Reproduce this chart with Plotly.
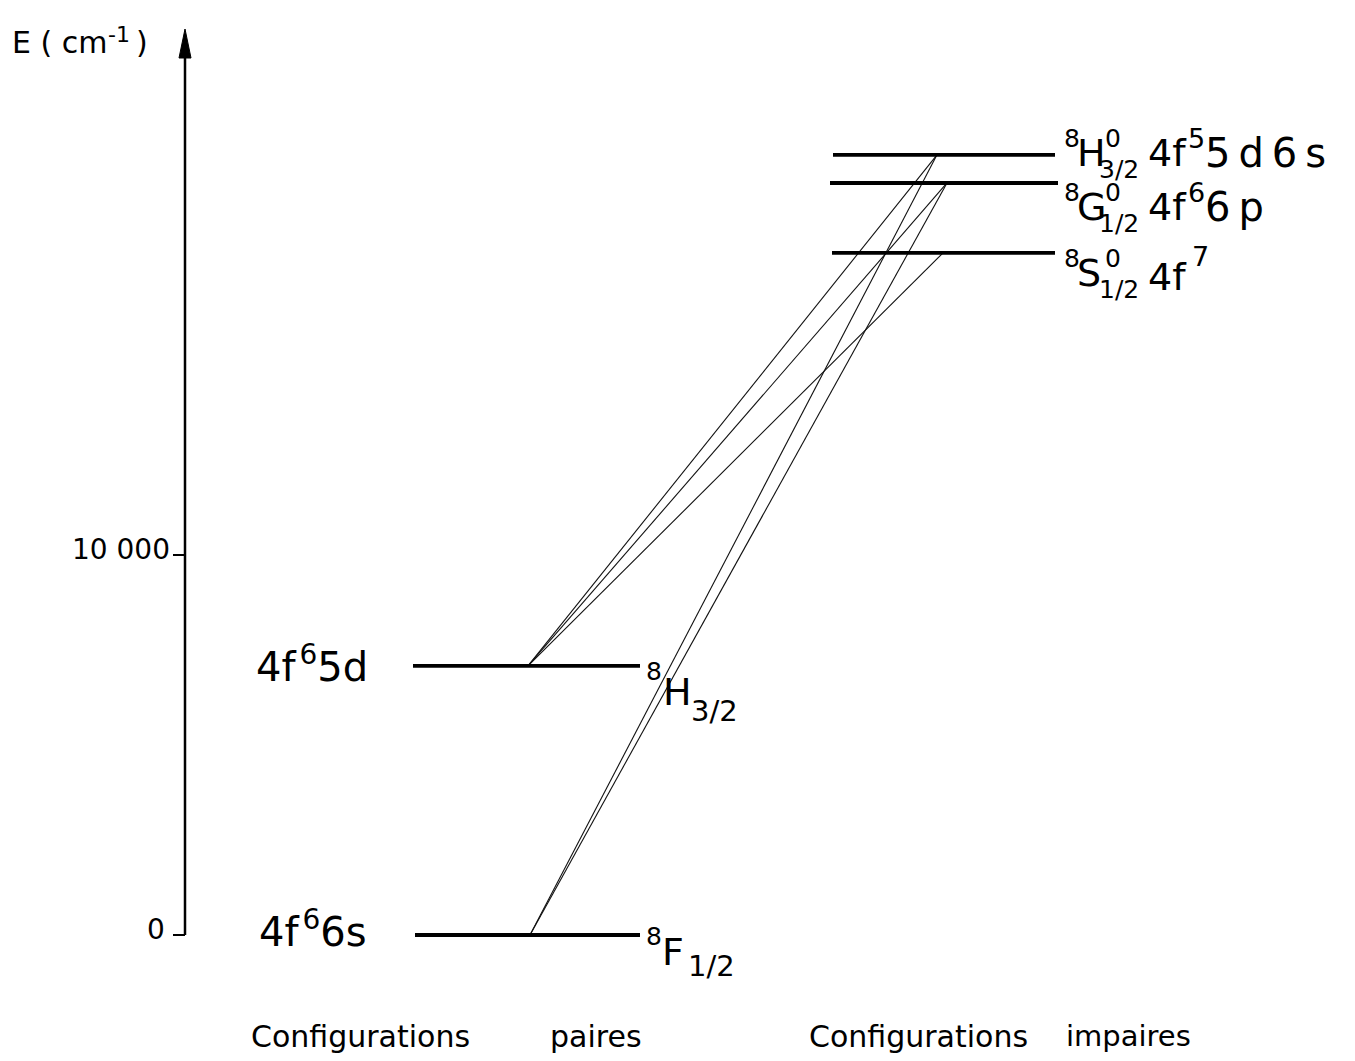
import plotly.graph_objects as go

# ---------------- data ----------------
level_names = ["4f6 6s 8F1/2", "4f6 5d 8H3/2", "4f7 8S0 1/2", "4f6 6p 8G0 1/2", "4f5 5d6s 8H0 3/2"]
level_keys = ["6s", "5d", "S", "G", "H"]
level_energy = [0, 7080, 17950, 19790, 20530]          # cm-1
level_parity = ["paire", "paire", "impaire", "impaire", "impaire"]

# transitions: (lower, upper)
trans_lower = ["5d", "5d", "5d", "6s", "6s"]
trans_upper = ["H", "G", "S", "H", "G"]

tick_values = [0, 10000]
tick_labels = ["0", "10 000"]

E = dict(zip(level_keys, level_energy))

# ---------------- layout ----------------
PAGE_OFF = 8                       # browser body margin
W, H = 1355 - 2 * PAGE_OFF, 1061 - 2 * PAGE_OFF
Y0_PX, PX_PER_CM = 935, 0.038      # page pixel of E=0, pixels per cm-1
y_hi = (Y0_PX - PAGE_OFF) / PX_PER_CM
y_lo = (Y0_PX - PAGE_OFF - H) / PX_PER_CM
def py(p):                          # page pixel row -> energy coordinate
    return (Y0_PX - p) / PX_PER_CM

level_x = {"6s": (415, 640), "5d": (413, 640), "S": (832, 1055), "G": (830, 1058), "H": (833, 1055)}
lower_anchor_x = {"6s": 530, "5d": 528}
upper_anchor_x = {"H": 937, "G": 947, "S": 943}
AXIS_X = 185

FONT = "DejaVu Sans"
fig = go.Figure()

# transitions
for lo, up in zip(trans_lower, trans_upper):
    fig.add_trace(go.Scatter(
        x=[lower_anchor_x[lo], upper_anchor_x[up]], y=[E[lo], E[up]],
        mode="lines", line=dict(color="#111", width=1.1), hoverinfo="skip", showlegend=False))

# levels
for k in level_keys:
    x0, x1 = level_x[k]
    fig.add_trace(go.Scatter(x=[x0, x1], y=[E[k], E[k]], mode="lines",
                             line=dict(color="black", width=3.8), hoverinfo="skip", showlegend=False))

shapes = []
# vertical energy axis with arrow
shapes.append(dict(type="line", x0=AXIS_X, x1=AXIS_X, y0=0, y1=py(50),
                   line=dict(color="black", width=2.5), xref="x", yref="y"))
shapes.append(dict(type="path", xref="x", yref="y",
                   path=f"M {AXIS_X-6},{py(58)} L {AXIS_X},{py(29)} L {AXIS_X+6},{py(58)} Z",
                   fillcolor="black", line=dict(color="black", width=1)))
# ticks
for v in tick_values:
    shapes.append(dict(type="line", x0=AXIS_X - 12, x1=AXIS_X, y0=v, y1=v,
                       line=dict(color="black", width=2), xref="x", yref="y"))

ann = []
def txt(x, y, s, size, xanchor="left", yshift=0, yanchor="middle"):
    ann.append(dict(x=x, y=y, xref="x", yref="y", text=s, showarrow=False,
                    xanchor=xanchor, yanchor=yanchor, yshift=yshift,
                    font=dict(family=FONT, size=size, color="black")))

# tick labels
txt(AXIS_X - 13, tick_values[1], tick_labels[1], 28, xanchor="right", yshift=6)
txt(167, tick_values[0], tick_labels[0], 28, xanchor="right", yshift=6)
# axis title
txt(10, py(42), "E ( cm", 30)
txt(106, py(34), "-1", 22)
txt(134, py(42), ")", 30)

# lower (paires) labels
txt(254, E["5d"], "4f\u200a<sup>6</sup>5d", 40, yshift=2)
txt(257, E["6s"], "4f\u200a<sup>6</sup>6s", 40, yshift=6)
txt(644, E["5d"], "8", 25, yshift=-6)
txt(661, E["5d"], "H", 38, yshift=-26)
txt(689, E["5d"], "3/2", 29, yshift=-45)
txt(644, E["6s"], "8", 25, yshift=-1)
txt(660, E["6s"], "F", 38, yshift=-17)
txt(686, E["6s"], "1/2", 29, yshift=-31)

# upper (impaires) labels
TS = "\u2009"
rows = [("H", "H", "3/2", "5", "5" + TS + "d" + TS + "6" + TS + "s", 0),
        ("G", "G", "1/2", "6", "6" + TS + "p", -26),
        ("S", "S", "1/2", "", "", -22)]
for key, letter, sub, sup, rest, dy in rows:
    txt(1062, E[key], "8", 25, yshift=16 + dy)
    txt(1075, E[key], letter, 38, yshift=2 + dy)
    txt(1103, E[key], "0", 25, yshift=16 + dy)
    txt(1097, E[key], sub, 25, yshift=-15 + dy)
    if key == "S":
        txt(1146, E[key], "4f", 38, yshift=-2 + dy)
        txt(1190, E[key], "7", 27, yshift=18 + dy)
    else:
        txt(1146, E[key], "4f", 38, yshift=2 + dy)
        txt(1186, E[key], sup, 27, yshift=16 + dy)
        txt(1203, E[key], rest, 40, yshift=2 + dy)

# bottom captions
cap_y = py(1036)
txt(249, cap_y, "Configurations", 30)
txt(548, cap_y, "paires", 30)
txt(807, cap_y, "Configurations", 30)
txt(1064, cap_y, "impaires", 29)

fig.update_layout(
    width=W, height=H, autosize=False,
    margin=dict(l=0, r=0, t=0, b=0),
    paper_bgcolor="white", plot_bgcolor="white",
    xaxis=dict(range=[PAGE_OFF, PAGE_OFF + W], visible=False, fixedrange=True),
    yaxis=dict(range=[y_lo, y_hi], visible=False, fixedrange=True),
    shapes=shapes, annotations=ann, showlegend=False,
)
fig.write_html("out.html")
